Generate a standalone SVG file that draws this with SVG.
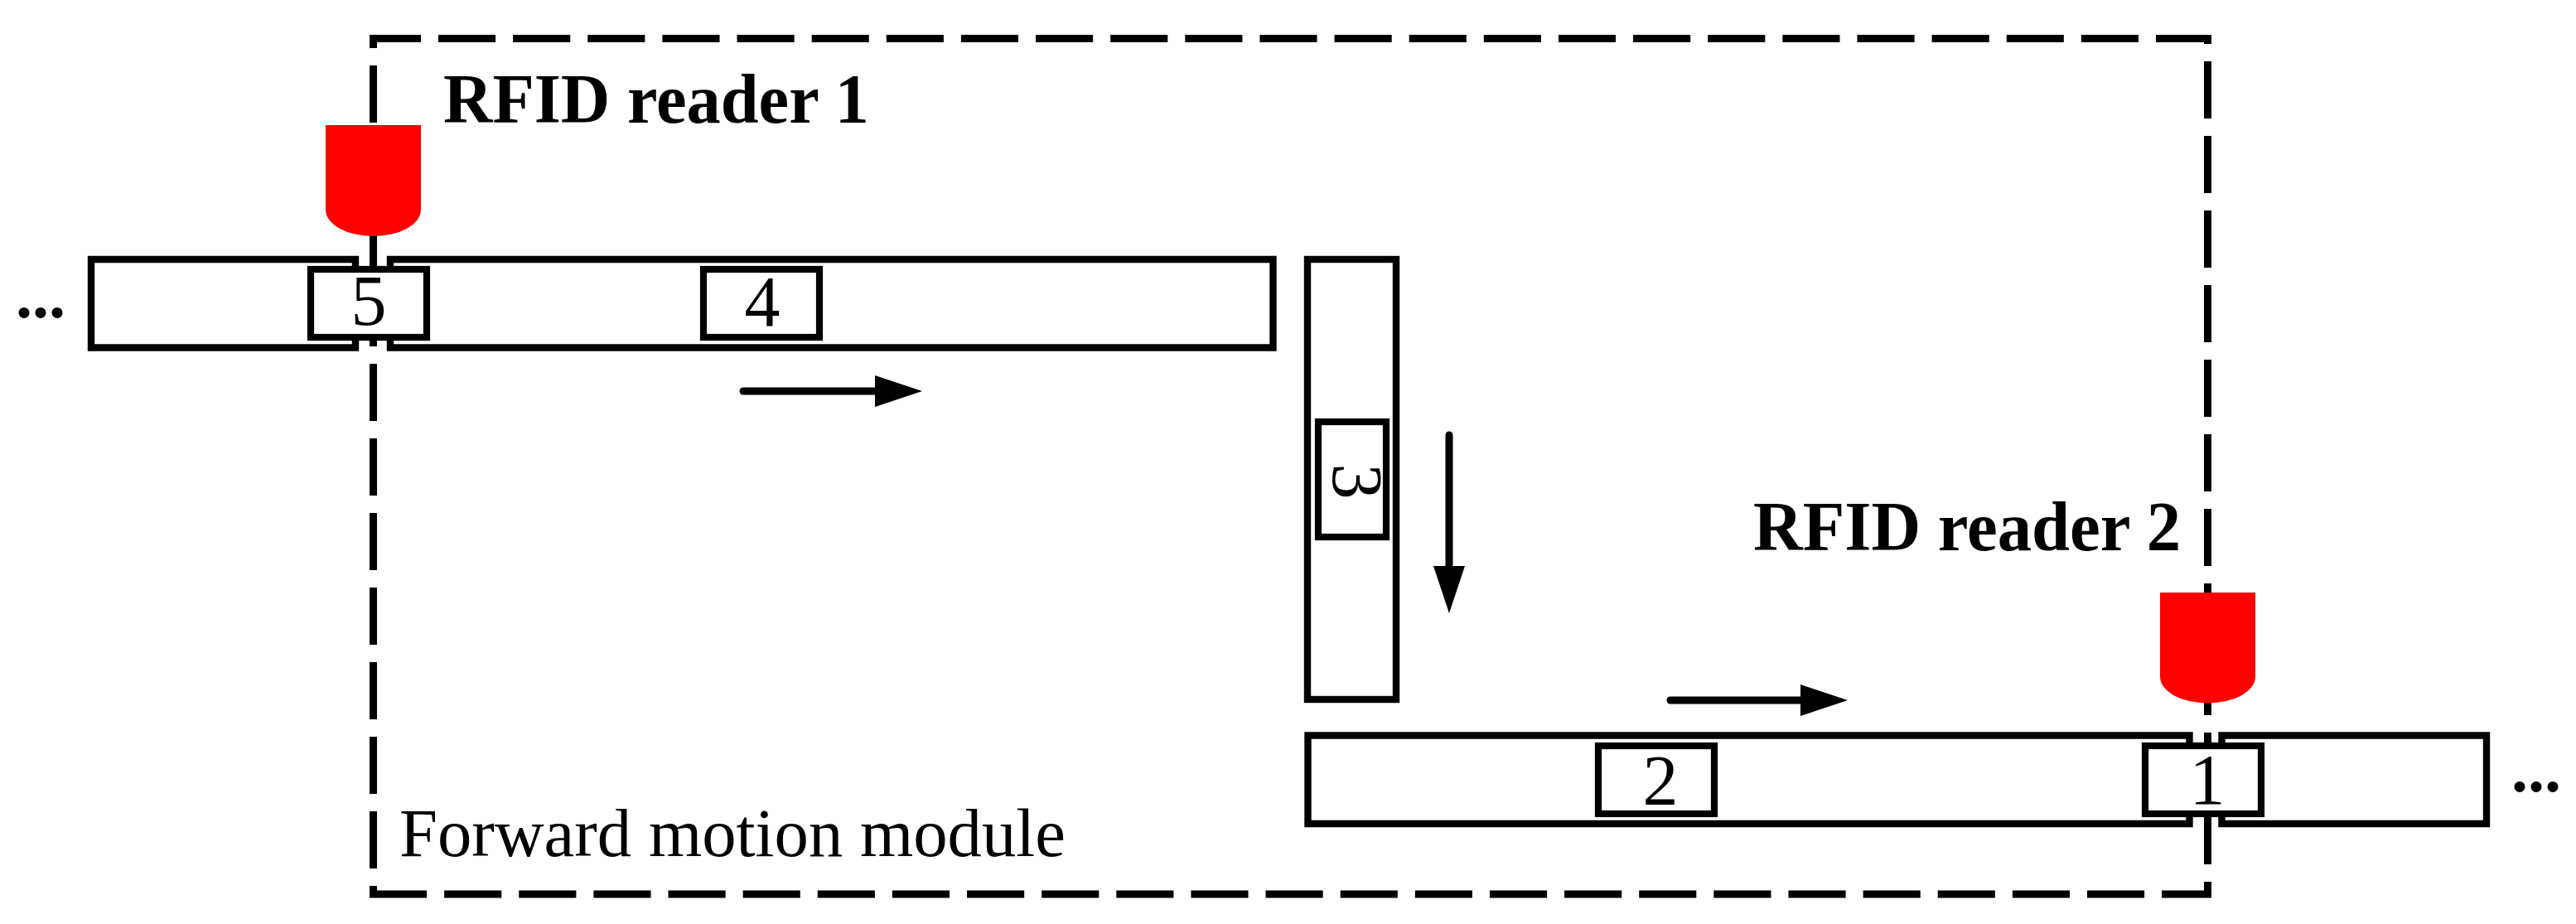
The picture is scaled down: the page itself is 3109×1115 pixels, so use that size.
<svg xmlns="http://www.w3.org/2000/svg" width="3109" height="1115" viewBox="0 0 3109 1115">
<style>
.dash{fill:none;stroke:#000;stroke-width:9}
.belt{fill:none;stroke:#000;stroke-width:8.4}
.tag{fill:#fff;stroke:#000;stroke-width:8.2}
.reader{fill:#f00;stroke:none}
.arrow{fill:none;stroke:#000;stroke-width:9;stroke-linecap:round}
.num{font-family:"Liberation Serif",serif;font-size:86px;text-anchor:middle;fill:#000}
.title{font-family:"Liberation Serif",serif;font-size:85px;font-weight:bold;fill:#000}
.plain{font-family:"Liberation Serif",serif;font-size:82px;fill:#000}
.dots{font-family:"Liberation Serif",serif;font-size:80px;font-weight:bold;fill:#000}
</style>
<defs>
<marker id="head" markerUnits="userSpaceOnUse" markerWidth="57" markerHeight="38" refX="0" refY="19" orient="auto">
<path d="M0,0L57,19L0,38Z" fill="#000"/>
</marker>
</defs>
<rect width="3109" height="1115" fill="#fff"/>
<g id="module">
<line class="dash" x1="446" y1="46.5" x2="2669" y2="46.5" stroke-dasharray="69.13 21" stroke-dashoffset="7.13"/>
<line class="dash" x1="2664.5" y1="42" x2="2664.5" y2="1083" stroke-dasharray="69 21" stroke-dashoffset="58"/>
<line class="dash" x1="446" y1="1079" x2="2669" y2="1079" stroke-dasharray="69.13 21"/>
<line class="dash" x1="450.5" y1="42" x2="450.5" y2="1083" stroke-dasharray="69 21" stroke-dashoffset="53"/>
<text class="plain" x="482" y="1033" textLength="804" lengthAdjust="spacingAndGlyphs">Forward motion module</text>
</g>
<g id="belt-top">
<path class="belt" d="M429,321V313H110V419.5H429V411"/>
<path class="belt" d="M471,321V313H1536.5V419.5H471V411"/>
</g>
<g id="belt-vertical">
<rect class="belt" x="1578" y="313" width="107" height="531"/>
</g>
<g id="belt-bottom">
<path class="belt" d="M2642.5,896V887.5H1578.5V994H2642.5V986"/>
<path class="belt" d="M2681.5,896V887.5H3001V994H2681.5V986"/>
</g>
<g id="reader-1">
<path class="reader" d="M393,151H508V253A57.5,32 0 0 1 393,253Z"/>
<text class="title" x="535" y="148" textLength="514" lengthAdjust="spacingAndGlyphs">RFID reader 1</text>
</g>
<g id="reader-2">
<path class="reader" d="M2607,715H2722V816.5A57.5,32 0 0 1 2607,816.5Z"/>
<text class="title" x="2116" y="664" textLength="516" lengthAdjust="spacingAndGlyphs">RFID reader 2</text>
</g>
<g id="tag-5">
<rect class="tag" x="375" y="325" width="140" height="82"/>
<text class="num" x="445" y="392">5</text>
</g>
<g id="tag-4">
<rect class="tag" x="849" y="325" width="140" height="82"/>
<text class="num" x="920" y="393">4</text>
</g>
<g id="tag-3">
<rect class="tag" x="1591" y="509" width="82" height="139"/>
<text class="num" transform="translate(1609 581) rotate(90)">3</text>
</g>
<g id="tag-2">
<rect class="tag" x="1929" y="900" width="140" height="82"/>
<text class="num" x="2004" y="971">2</text>
</g>
<g id="tag-1">
<rect class="tag" x="2589" y="900" width="140" height="82"/>
<text class="num" x="2664" y="970">1</text>
</g>
<g id="ellipsis-left"><text class="dots" x="19" y="383">...</text></g>
<g id="ellipsis-right"><text class="dots" x="3031" y="955">...</text></g>
<g id="connectors">
<line class="arrow" x1="897" y1="472" x2="1056" y2="472" marker-end="url(#head)"/>
<line class="arrow" x1="2016" y1="845" x2="2173" y2="845" marker-end="url(#head)"/>
<line class="arrow" x1="1749" y1="525" x2="1749" y2="683" marker-end="url(#head)"/>
</g>
</svg>
